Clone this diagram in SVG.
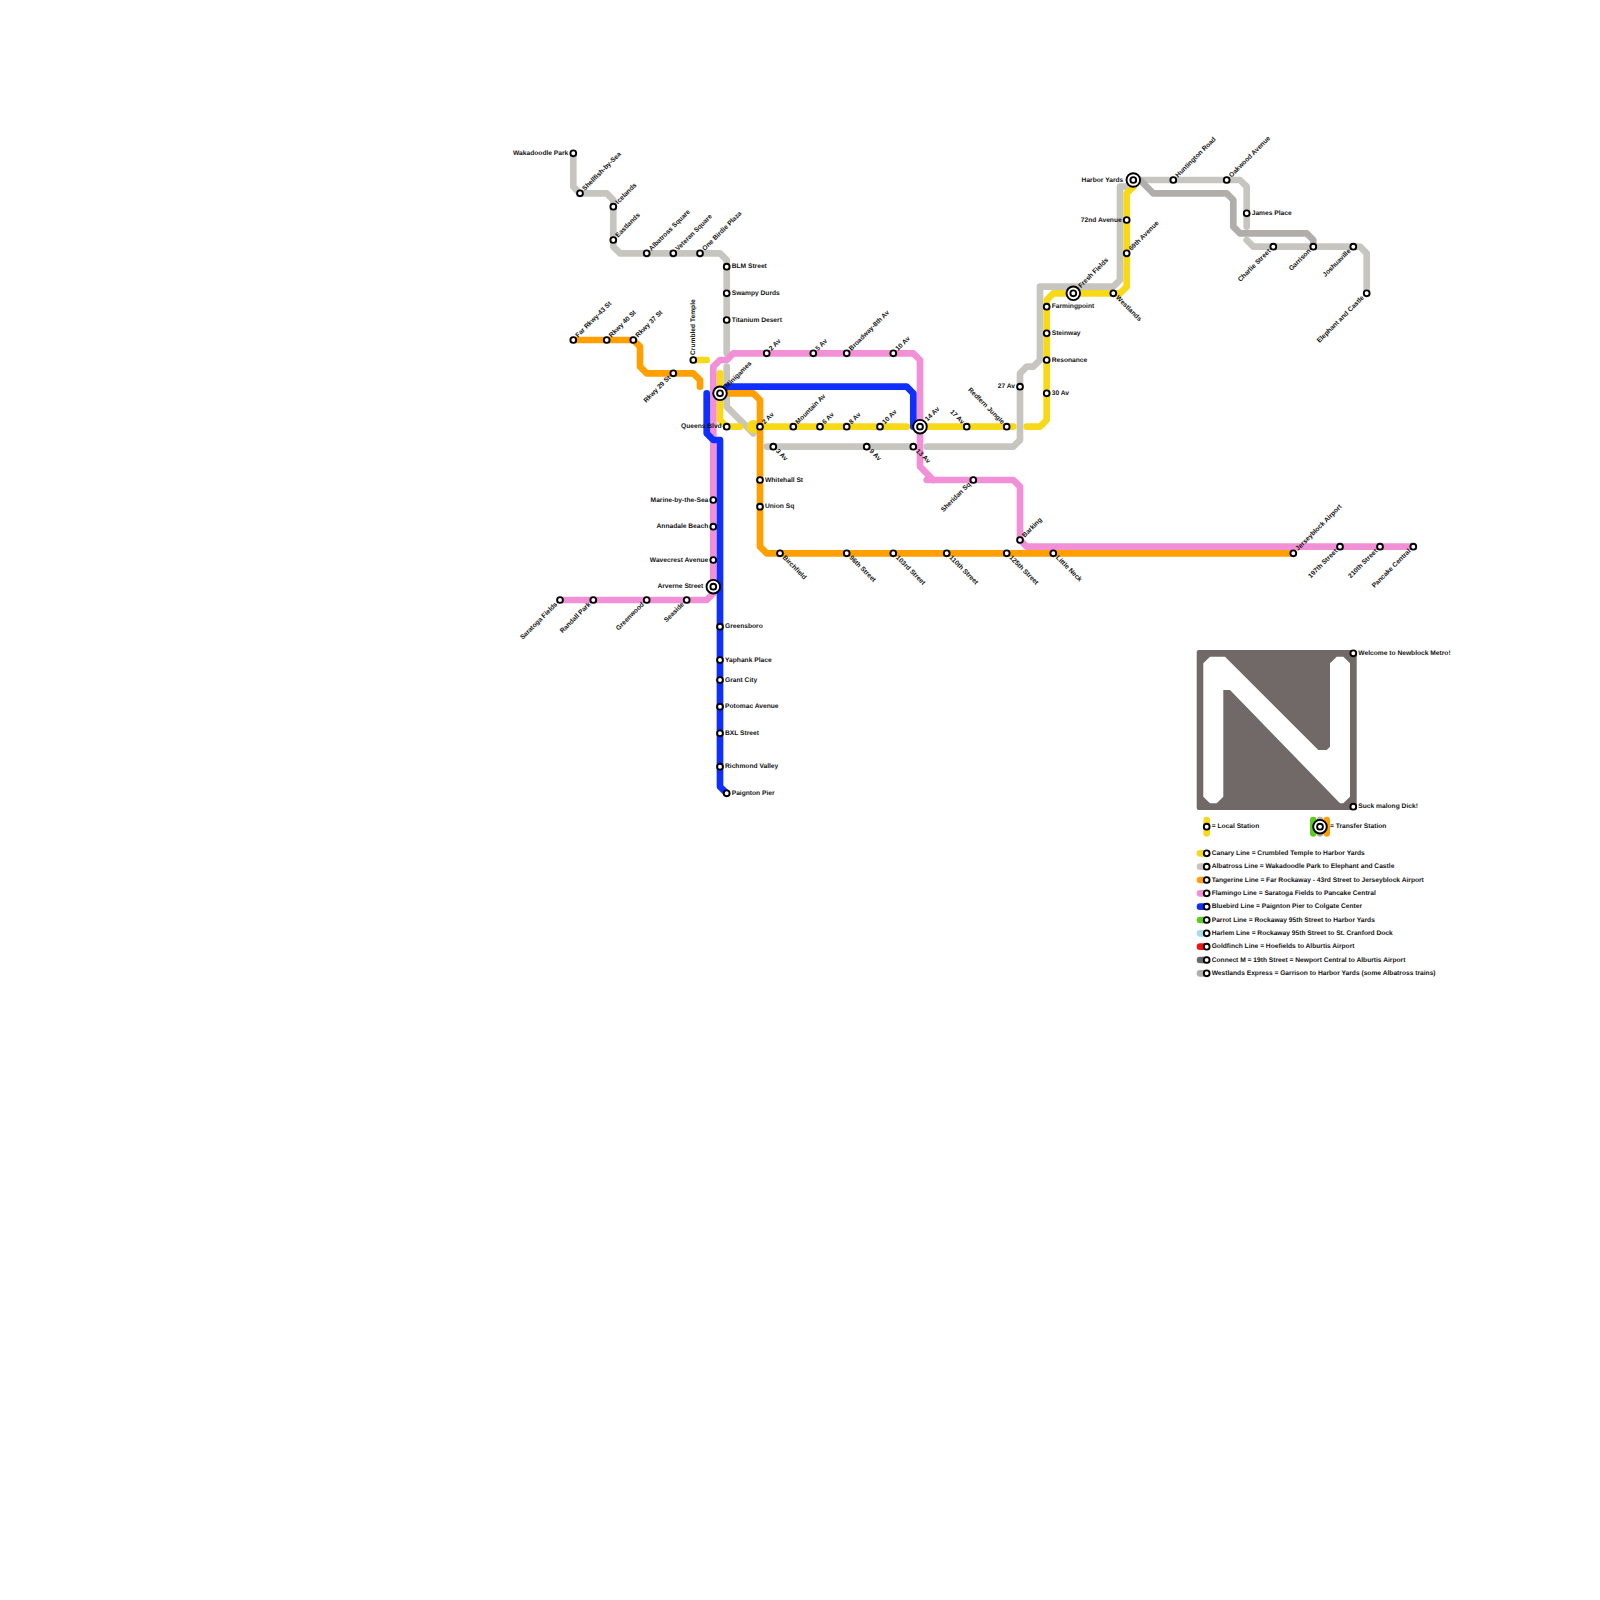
<svg xmlns="http://www.w3.org/2000/svg" width="1600" height="1600" viewBox="0 0 1600 1600">
<style>
text{font-family:"Liberation Sans",Arial,sans-serif;font-weight:700;font-size:6.67px;fill:#111;dominant-baseline:middle;text-rendering:geometricPrecision;opacity:.99}
.e{text-anchor:end}
.l{fill:none;stroke-width:6.67;stroke-linecap:round;stroke-linejoin:round}
.st{fill:#fff;stroke:#000;stroke-width:1.9}
.yl{stroke:#f7d917}.gr{stroke:#c6c5bf}.wx{stroke:#b1adaa}.or{stroke:#ff9f00}.pk{stroke:#f190d6}.bl{stroke:#0f2fff}.gn{stroke:#5dcc1d}.hb{stroke:#a9dcea}.rd{stroke:#f41111}.dk{stroke:#716868}
</style>
<defs>
<circle id="s" class="st" r="2.9"/>
<g id="t"><circle class="st" r="6.8"/><circle class="st" r="2.9"/></g>
</defs>
<rect width="1600" height="1600" fill="#fff"/>
<g id="connectors">
<path class="l gr" d="M573.3,153.3V186.7L580,193.3H606.7L613.3,200V246.7L620,253.3H720L726.7,260V353.3"/>
<path class="l gr" d="M726.7,366.7V406.7L753.3,433.3"/>
<path class="l gr" d="M766.7,446.7H910"/>
<path class="l gr" d="M926.7,446.7H1013.3L1020,440V373.3L1026.7,366.7H1033.3L1040,360V286.7H1113.3L1120,280V186.7H1133.3"/>
<path class="l gr" d="M1133.3,180H1240L1246.7,186.7V226.7"/>
<path class="l gr" d="M1246.7,240L1253.3,246.7H1360L1366.7,253.3V293.3"/>
<path class="l wx" d="M1140,180L1153.3,193.3H1226.7L1233.3,200V226.7L1240,233.3H1306.7L1313.3,240V246.7"/>
<path class="l yl" d="M693.3,360H706.7"/>
<path class="l yl" d="M720,373.3V420L726.7,426.7H740"/>
<circle cx="753.3" cy="426.7" r="6.67" fill="#f7d917"/>
<path class="l yl" d="M753.3,426.7H906.7"/>
<path class="l yl" d="M926.7,426.7H1013.3"/>
<path class="l yl" d="M1026.7,426.7H1040L1046.7,420V300L1053.3,293.3H1120L1126.7,286.7V193.3L1133.3,186.7V180"/>
<path class="l or" d="M573.3,340H633.3L640,346.7V366.7L646.7,373.3H693.3L700,380V386.7"/>
<path class="l or" d="M720,393.3H753.3L760,400V546.7L766.7,553.3H1293.3"/>
<path class="l pk" d="M560,600H706.7L713.3,593.3V366.7L720,360H726.7L733.3,353.3H913.3L920,360V466.7L933.3,480"/>
<path class="l pk" d="M926.7,480H1013.3L1020,486.7V540L1026.7,546.7H1413.3"/>
<path class="l bl" d="M706.7,393.3V433.3L713.3,440H720V786.7L726.7,793.3"/>
<path class="l bl" d="M720,393.3L726.7,386.7H906.7L913.3,393.3V426.7"/>
</g>
<g id="wakadoodle-park"><use href="#s" x="573.3" y="153.3"/><text class="e" transform="translate(573.3 153.3)" x="-5">Wakadoodle Park</text></g>
<g id="shellfish-by-sea"><use href="#s" x="580" y="193.3"/><text transform="translate(580 193.3) rotate(-45)" x="5">Shellfish-by-Sea</text></g>
<g id="icelands"><use href="#s" x="613.3" y="206.7"/><text transform="translate(613.3 206.7) rotate(-45)" x="5">Icelands</text></g>
<g id="eastlands"><use href="#s" x="613.3" y="240"/><text transform="translate(613.3 240) rotate(-45)" x="5">Eastlands</text></g>
<g id="albatross-square"><use href="#s" x="646.7" y="253.3"/><text transform="translate(646.7 253.3) rotate(-45)" x="5">Albatross Square</text></g>
<g id="veteran-square"><use href="#s" x="673.3" y="253.3"/><text transform="translate(673.3 253.3) rotate(-45)" x="5">Veteran Square</text></g>
<g id="one-birdie-plaza"><use href="#s" x="700" y="253.3"/><text transform="translate(700 253.3) rotate(-45)" x="5">One Birdie Plaza</text></g>
<g id="blm-street"><use href="#s" x="726.7" y="266.7"/><text transform="translate(726.7 266.7)" x="5">BLM Street</text></g>
<g id="swampy-durds"><use href="#s" x="726.7" y="293.3"/><text transform="translate(726.7 293.3)" x="5">Swampy Durds</text></g>
<g id="titanium-desert"><use href="#s" x="726.7" y="320"/><text transform="translate(726.7 320)" x="5">Titanium Desert</text></g>
<g id="far-rkwy-43"><use href="#s" x="573.3" y="340"/><text transform="translate(573.3 340) rotate(-45)" x="5">Far Rkwy-43 St</text></g>
<g id="rkwy-40"><use href="#s" x="606.7" y="340"/><text transform="translate(606.7 340) rotate(-45)" x="5">Rkwy 40 St</text></g>
<g id="rkwy-37"><use href="#s" x="633.3" y="340"/><text transform="translate(633.3 340) rotate(-45)" x="5">Rkwy 37 St</text></g>
<g id="rkwy-29"><use href="#s" x="673.3" y="373.3"/><text class="e" transform="translate(673.3 373.3) rotate(-45)" x="-5">Rkwy 29 St</text></g>
<g id="crumbled-temple"><use href="#s" x="693.3" y="360"/><text transform="translate(693.3 360) rotate(-90)" x="5">Crumbled Temple</text></g>
<g id="minigames"><use href="#t" x="720" y="393.3"/><text transform="translate(720 393.3) rotate(-45)" x="9">Minigames</text></g>
<g id="queens-blvd"><use href="#s" x="726.7" y="426.7"/><text class="e" transform="translate(726.7 426.7)" x="-5">Queens Blvd</text></g>
<g id="top-2-av"><use href="#s" x="766.7" y="353.3"/><text transform="translate(766.7 353.3) rotate(-45)" x="5">2 Av</text></g>
<g id="top-5-av"><use href="#s" x="813.3" y="353.3"/><text transform="translate(813.3 353.3) rotate(-45)" x="5">5 Av</text></g>
<g id="broadway-8th"><use href="#s" x="846.7" y="353.3"/><text transform="translate(846.7 353.3) rotate(-45)" x="5">Broadway-8th Av</text></g>
<g id="top-10-av"><use href="#s" x="893.3" y="353.3"/><text transform="translate(893.3 353.3) rotate(-45)" x="5">10 Av</text></g>
<g id="low-2-av"><use href="#s" x="760" y="426.7"/><text transform="translate(760 426.7) rotate(-45)" x="5">2 Av</text></g>
<g id="mountain-av"><use href="#s" x="793.3" y="426.7"/><text transform="translate(793.3 426.7) rotate(-45)" x="5">Mountain Av</text></g>
<g id="low-6-av"><use href="#s" x="820" y="426.7"/><text transform="translate(820 426.7) rotate(-45)" x="5">6 Av</text></g>
<g id="low-8-av"><use href="#s" x="846.7" y="426.7"/><text transform="translate(846.7 426.7) rotate(-45)" x="5">8 Av</text></g>
<g id="low-10-av"><use href="#s" x="880" y="426.7"/><text transform="translate(880 426.7) rotate(-45)" x="5">10 Av</text></g>
<g id="av-14"><use href="#t" x="920" y="426.7"/><text transform="translate(920 426.7) rotate(-45)" x="9">14 Av</text></g>
<g id="av-17"><use href="#s" x="966.7" y="426.7"/><text class="e" transform="translate(966.7 426.7) rotate(45)" x="-5">17 Av</text></g>
<g id="redfern-jungle"><use href="#s" x="1006.7" y="426.7"/><text class="e" transform="translate(1006.7 426.7) rotate(45)" x="-5">Redfern Jungle</text></g>
<g id="av-3"><use href="#s" x="773.3" y="446.7"/><text transform="translate(773.3 446.7) rotate(45)" x="5">3 Av</text></g>
<g id="av-9"><use href="#s" x="866.7" y="446.7"/><text transform="translate(866.7 446.7) rotate(45)" x="5">9 Av</text></g>
<g id="av-13"><use href="#s" x="913.3" y="446.7"/><text transform="translate(913.3 446.7) rotate(45)" x="5">13 Av</text></g>
<g id="whitehall-st"><use href="#s" x="760" y="480"/><text transform="translate(760 480)" x="5">Whitehall St</text></g>
<g id="union-sq"><use href="#s" x="760" y="506.7"/><text transform="translate(760 506.7)" x="5">Union Sq</text></g>
<g id="birchfield"><use href="#s" x="780" y="553.3"/><text transform="translate(780 553.3) rotate(45)" x="5">Birchfield</text></g>
<g id="st-96"><use href="#s" x="846.7" y="553.3"/><text transform="translate(846.7 553.3) rotate(45)" x="5">96th Street</text></g>
<g id="st-103"><use href="#s" x="893.3" y="553.3"/><text transform="translate(893.3 553.3) rotate(45)" x="5">103rd Street</text></g>
<g id="st-110"><use href="#s" x="946.7" y="553.3"/><text transform="translate(946.7 553.3) rotate(45)" x="5">110th Street</text></g>
<g id="st-125"><use href="#s" x="1006.7" y="553.3"/><text transform="translate(1006.7 553.3) rotate(45)" x="5">125th Street</text></g>
<g id="little-neck"><use href="#s" x="1053.3" y="553.3"/><text transform="translate(1053.3 553.3) rotate(45)" x="5">Little Neck</text></g>
<g id="sheridan-sq"><use href="#s" x="973.3" y="480"/><text class="e" transform="translate(973.3 480) rotate(-45)" x="-5">Sheridan Sq</text></g>
<g id="barking"><use href="#s" x="1020" y="540"/><text transform="translate(1020 540) rotate(-45)" x="5">Barking</text></g>
<g id="jerseyblock-airport"><use href="#s" x="1293.3" y="553.3"/><text transform="translate(1293.3 553.3) rotate(-45)" x="5">Jerseyblock Airport</text></g>
<g id="st-197"><use href="#s" x="1340" y="546.7"/><text class="e" transform="translate(1340 546.7) rotate(-45)" x="-5">197th Street</text></g>
<g id="st-210"><use href="#s" x="1380" y="546.7"/><text class="e" transform="translate(1380 546.7) rotate(-45)" x="-5">210th Street</text></g>
<g id="pancake-central"><use href="#s" x="1413.3" y="546.7"/><text class="e" transform="translate(1413.3 546.7) rotate(-45)" x="-5">Pancake Central</text></g>
<g id="marine-by-the-sea"><use href="#s" x="713.3" y="500"/><text class="e" transform="translate(713.3 500)" x="-5">Marine-by-the-Sea</text></g>
<g id="annadale-beach"><use href="#s" x="713.3" y="526.7"/><text class="e" transform="translate(713.3 526.7)" x="-5">Annadale Beach</text></g>
<g id="wavecrest-avenue"><use href="#s" x="713.3" y="560"/><text class="e" transform="translate(713.3 560)" x="-5">Wavecrest Avenue</text></g>
<g id="arverne-street"><use href="#t" x="713.3" y="586.7"/><text class="e" transform="translate(713.3 586.7)" x="-10">Arverne Street</text></g>
<g id="saratoga-fields"><use href="#s" x="560" y="600"/><text class="e" transform="translate(560 600) rotate(-45)" x="-5">Saratoga Fields</text></g>
<g id="randall-park"><use href="#s" x="593.3" y="600"/><text class="e" transform="translate(593.3 600) rotate(-45)" x="-5">Randall Park</text></g>
<g id="greenwood"><use href="#s" x="646.7" y="600"/><text class="e" transform="translate(646.7 600) rotate(-45)" x="-5">Greenwood</text></g>
<g id="seaside"><use href="#s" x="686.7" y="600"/><text class="e" transform="translate(686.7 600) rotate(-45)" x="-5">Seaside</text></g>
<g id="greensboro"><use href="#s" x="720" y="626.7"/><text transform="translate(720 626.7)" x="5">Greensboro</text></g>
<g id="yaphank-place"><use href="#s" x="720" y="660"/><text transform="translate(720 660)" x="5">Yaphank Place</text></g>
<g id="grant-city"><use href="#s" x="720" y="680"/><text transform="translate(720 680)" x="5">Grant City</text></g>
<g id="potomac-avenue"><use href="#s" x="720" y="706.7"/><text transform="translate(720 706.7)" x="5">Potomac Avenue</text></g>
<g id="bxl-street"><use href="#s" x="720" y="733.3"/><text transform="translate(720 733.3)" x="5">BXL Street</text></g>
<g id="richmond-valley"><use href="#s" x="720" y="766.7"/><text transform="translate(720 766.7)" x="5">Richmond Valley</text></g>
<g id="paignton-pier"><use href="#s" x="726.7" y="793.3"/><text transform="translate(726.7 793.3)" x="5">Paignton Pier</text></g>
<g id="harbor-yards"><use href="#t" x="1133.3" y="180"/><text class="e" transform="translate(1133.3 180)" x="-10">Harbor Yards</text></g>
<g id="avenue-72"><use href="#s" x="1126.7" y="220"/><text class="e" transform="translate(1126.7 220)" x="-5">72nd Avenue</text></g>
<g id="avenue-69"><use href="#s" x="1126.7" y="253.3"/><text transform="translate(1126.7 253.3) rotate(-45)" x="5">69th Avenue</text></g>
<g id="fresh-fields"><use href="#t" x="1073.3" y="293.3"/><text transform="translate(1073.3 293.3) rotate(-45)" x="9">Fresh Fields</text></g>
<g id="westlands"><use href="#s" x="1113.3" y="293.3"/><text transform="translate(1113.3 293.3) rotate(45)" x="5">Westlands</text></g>
<g id="farmingpoint"><use href="#s" x="1046.7" y="306.7"/><text transform="translate(1046.7 306.7)" x="5">Farmingpoint</text></g>
<g id="steinway"><use href="#s" x="1046.7" y="333.3"/><text transform="translate(1046.7 333.3)" x="5">Steinway</text></g>
<g id="resonance"><use href="#s" x="1046.7" y="360"/><text transform="translate(1046.7 360)" x="5">Resonance</text></g>
<g id="av-30"><use href="#s" x="1046.7" y="393.3"/><text transform="translate(1046.7 393.3)" x="5">30 Av</text></g>
<g id="av-27"><use href="#s" x="1020" y="386.7"/><text class="e" transform="translate(1020 386.7)" x="-5">27 Av</text></g>
<g id="huntington-road"><use href="#s" x="1173.3" y="180"/><text transform="translate(1173.3 180) rotate(-45)" x="5">Huntington Road</text></g>
<g id="oakwood-avenue"><use href="#s" x="1226.7" y="180"/><text transform="translate(1226.7 180) rotate(-45)" x="5">Oakwood Avenue</text></g>
<g id="james-place"><use href="#s" x="1246.7" y="213.3"/><text transform="translate(1246.7 213.3)" x="5">James Place</text></g>
<g id="charlie-street"><use href="#s" x="1273.3" y="246.7"/><text class="e" transform="translate(1273.3 246.7) rotate(-45)" x="-5">Charlie Street</text></g>
<g id="garrison"><use href="#s" x="1313.3" y="246.7"/><text class="e" transform="translate(1313.3 246.7) rotate(-45)" x="-5">Garrison</text></g>
<g id="joshuaville"><use href="#s" x="1353.3" y="246.7"/><text class="e" transform="translate(1353.3 246.7) rotate(-45)" x="-5">Joshuaville</text></g>
<g id="elephant-and-castle"><use href="#s" x="1366.7" y="293.3"/><text class="e" transform="translate(1366.7 293.3) rotate(-45)" x="-5">Elephant and Castle</text></g>
<g id="logo">
<rect x="1196.7" y="650" width="160" height="160" rx="2" fill="#716868"/>
<path fill="#fff" d="M1203.3,663.3L1210,656.7H1225L1318.3,750H1326.7L1330,746.7V663.3L1336.7,656.7H1343.3L1350,663.3V796.7L1343.3,803.3H1340L1230,690L1227,690H1223.3V796.7L1216.7,803.3H1210L1203.3,796.7Z"/>
</g>
<g id="welcome"><use href="#s" x="1353.3" y="653.3"/><text transform="translate(1353.3 653.3)" x="5">Welcome to Newblock Metro!</text></g>
<g id="suck"><use href="#s" x="1353.3" y="806.7"/><text transform="translate(1353.3 806.7)" x="5">Suck malong Dick!</text></g>
<g id="legend-local"><path class="l yl" d="M1206.7,820V833.3"/><use href="#s" x="1206.7" y="826.7"/><text x="1211.7" y="826.7">= Local Station</text></g>
<g id="legend-transfer"><path class="l gn" d="M1313.3,820V833.3"/><path class="l wx" d="M1320,820V833.3"/><path class="l or" d="M1326.7,820V833.3"/><use href="#t" x="1320" y="826.7"/><text x="1330" y="826.7">= Transfer Station</text></g>
<g id="legend-canary"><path class="l yl" d="M1200,853.3H1206.7"/><use href="#s" x="1206.7" y="853.3"/><text x="1211.7" y="853.3">Canary Line = Crumbled Temple to Harbor Yards</text></g>
<g id="legend-albatross"><path class="l gr" d="M1200,866.7H1206.7"/><use href="#s" x="1206.7" y="866.7"/><text x="1211.7" y="866.7">Albatross Line = Wakadoodle Park to Elephant and Castle</text></g>
<g id="legend-tangerine"><path class="l or" d="M1200,880H1206.7"/><use href="#s" x="1206.7" y="880"/><text x="1211.7" y="880">Tangerine Line = Far Rockaway - 43rd Street to Jerseyblock Airport</text></g>
<g id="legend-flamingo"><path class="l pk" d="M1200,893.3H1206.7"/><use href="#s" x="1206.7" y="893.3"/><text x="1211.7" y="893.3">Flamingo Line = Saratoga Fields to Pancake Central</text></g>
<g id="legend-bluebird"><path class="l bl" d="M1200,906.7H1206.7"/><use href="#s" x="1206.7" y="906.7"/><text x="1211.7" y="906.7">Bluebird Line = Paignton Pier to Colgate Center</text></g>
<g id="legend-parrot"><path class="l gn" d="M1200,920H1206.7"/><use href="#s" x="1206.7" y="920"/><text x="1211.7" y="920">Parrot Line = Rockaway 95th Street to Harbor Yards</text></g>
<g id="legend-harlem"><path class="l hb" d="M1200,933.3H1206.7"/><use href="#s" x="1206.7" y="933.3"/><text x="1211.7" y="933.3">Harlem Line = Rockaway 95th Street to St. Cranford Dock</text></g>
<g id="legend-goldfinch"><path class="l rd" d="M1200,946.7H1206.7"/><use href="#s" x="1206.7" y="946.7"/><text x="1211.7" y="946.7">Goldfinch Line = Hoefields to Alburtis Airport</text></g>
<g id="legend-connect"><path class="l dk" d="M1200,960H1206.7"/><use href="#s" x="1206.7" y="960"/><text x="1211.7" y="960">Connect M = 19th Street = Newport Central to Alburtis Airport</text></g>
<g id="legend-westlands"><path class="l wx" d="M1200,973.3H1206.7"/><use href="#s" x="1206.7" y="973.3"/><text x="1211.7" y="973.3">Westlands Express = Garrison to Harbor Yards (some Albatross trains)</text></g>
</svg>
